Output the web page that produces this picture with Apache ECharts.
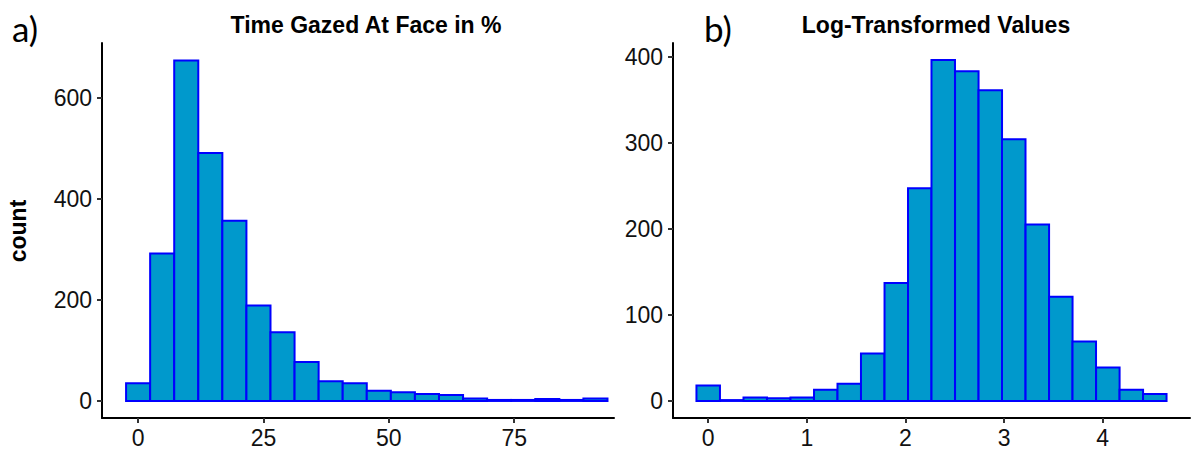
<!DOCTYPE html>
<html>
<head>
<meta charset="utf-8">
<script src="https://cdn.jsdelivr.net/npm/echarts@6/dist/echarts.min.js"></script>
<style>
  html, body { margin: 0; padding: 0; background: #fff; }
  #chart { width: 1194px; height: 449px; }
</style>
</head>
<body>
<div id="chart"></div>
<script>
// panel a: raw percentages, 20 bins (bin width 4.8)
var leftCenters = [0, 4.8, 9.6, 14.4, 19.2, 24, 28.8, 33.6, 38.4, 43.2,
                   48, 52.8, 57.6, 62.4, 67.2, 72, 76.8, 81.6, 86.4, 91.2]
var leftCounts = [35, 292, 674, 491, 357, 189, 136, 77, 39, 35,
                  20, 17, 14, 12, 5, 2, 2, 4, 2, 5]
var leftBinWidth = 4.8
var leftXTicks = [0, 25, 50, 75]
var leftYTicks = [0, 200, 400, 600]

// panel b: log-transformed, 20 bins
var rightCenters = [0, 0.238, 0.477, 0.715, 0.953, 1.192, 1.430, 1.668, 1.907, 2.145,
                    2.383, 2.622, 2.860, 3.098, 3.337, 3.575, 3.813, 4.052, 4.290, 4.528]
var rightCounts = [18, 1, 4, 3, 4, 13, 20, 55, 137, 247,
                   396, 383, 361, 304, 205, 121, 69, 39, 13, 8]
var rightBinWidth = 0.2383
var rightXTicks = [0, 1, 2, 3, 4]
var rightYTicks = [0, 100, 200, 300, 400]

var FONT = 'Liberation Sans, Arial, sans-serif'

function histData(centers, counts, w) {
  return centers.map(function (c, i) { return [c, counts[i], w] })
}

function renderBar(params, api) {
  var c = api.value(0)
  var v = api.value(1)
  var w = api.value(2)
  var p0 = api.coord([c - w / 2, v])
  var p1 = api.coord([c + w / 2, 0])
  return {
    type: 'rect',
    shape: { x: p0[0], y: p0[1], width: p1[0] - p0[0], height: p1[1] - p0[1] },
    style: { fill: '#0099cc', stroke: '#0000ff', lineWidth: 2 }
  }
}

function xAxisCfg(idx, min, max, ticks) {
  return {
    type: 'value', gridIndex: idx, min: min, max: max,
    splitLine: { show: false },
    axisLine: { onZero: false, lineStyle: { color: '#000', width: 2 } },
    axisTick: { customValues: ticks, length: 5, lineStyle: { color: '#333', width: 2 } },
    axisLabel: { customValues: ticks, margin: 8, color: '#111', fontSize: 23, fontFamily: FONT }
  }
}

function yAxisCfg(idx, min, max, ticks) {
  return {
    type: 'value', gridIndex: idx, min: min, max: max,
    splitLine: { show: false },
    axisLine: { show: true, onZero: false, lineStyle: { color: '#000', width: 2 } },
    axisTick: { show: true, customValues: ticks, length: 5, lineStyle: { color: '#333', width: 2 } },
    axisLabel: { customValues: ticks, margin: 10, color: '#111', fontSize: 23, fontFamily: FONT }
  }
}

var chart = echarts.init(document.getElementById('chart'), null, { renderer: 'svg' })

var option = {
  animation: false,
  backgroundColor: '#fff',
  grid: [
    { left: 102, top: 43, width: 512, height: 377 },
    { left: 673, top: 43, width: 517, height: 377 }
  ],
  xAxis: [
    xAxisCfg(0, -7.2, 94.9, leftXTicks),
    xAxisCfg(1, -0.357, 4.885, rightXTicks)
  ],
  yAxis: [
    yAxisCfg(0, -33.75, 708.75, leftYTicks),
    yAxisCfg(1, -19.8, 415.8, rightYTicks)
  ],
  series: [
    {
      type: 'custom', xAxisIndex: 0, yAxisIndex: 0,
      renderItem: renderBar,
      data: histData(leftCenters, leftCounts, leftBinWidth)
    },
    {
      type: 'custom', xAxisIndex: 1, yAxisIndex: 1,
      renderItem: renderBar,
      data: histData(rightCenters, rightCounts, rightBinWidth)
    }
  ],
  graphic: [
    { type: 'text', x: 366, y: 25, style: { text: 'Time Gazed At Face in %', align: 'center', verticalAlign: 'middle', font: 'bold 23px ' + FONT, fill: '#000' } },
    { type: 'text', x: 936, y: 25, style: { text: 'Log-Transformed Values', align: 'center', verticalAlign: 'middle', font: 'bold 23px ' + FONT, fill: '#000' } },
    { type: 'text', x: 18, y: 231, rotation: Math.PI / 2, style: { text: 'count', align: 'center', verticalAlign: 'middle', font: 'bold 23px ' + FONT, fill: '#000' } },
    { type: 'text', x: 12, y: 28, style: { text: 'a)', align: 'left', verticalAlign: 'middle', font: '35px Lato, sans-serif', fill: '#000' } },
    { type: 'text', x: 704, y: 28, style: { text: 'b)', align: 'left', verticalAlign: 'middle', font: '35px Lato, sans-serif', fill: '#000' } }
  ]
}

chart.setOption(option)
</script>
</body>
</html>
